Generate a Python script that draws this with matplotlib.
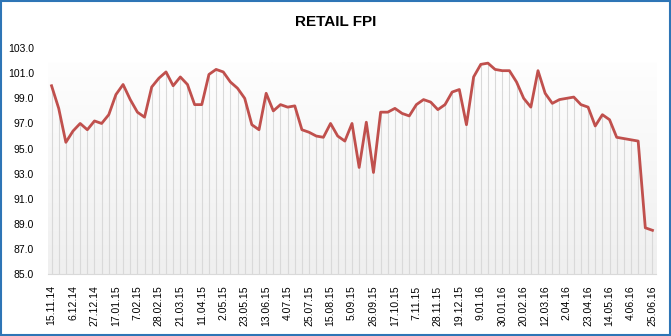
import matplotlib
matplotlib.use('Agg')
import matplotlib.pyplot as plt
from matplotlib.colors import LinearSegmentedColormap
from matplotlib.patches import Rectangle
import numpy as np

# weekly retail FPI, 15.11.14 .. 25.06.16
fpi = [100.0, 98.2, 95.5, 96.4, 97.0, 96.5, 97.2, 97.0, 97.7, 99.3,
       100.1, 98.9, 97.9, 97.5, 99.9, 100.6, 101.1, 100.0, 100.7, 100.1,
       98.5, 98.5, 100.9, 101.3, 101.1, 100.3, 99.8, 99.0, 96.9, 96.5,
       99.4, 98.0, 98.5, 98.3, 98.4, 96.5, 96.3, 96.0, 95.9, 97.0,
       96.0, 95.6, 97.0, 93.5, 97.1, 93.1, 97.9, 97.9, 98.2, 97.8,
       97.6, 98.5, 98.9, 98.7, 98.1, 98.5, 99.5, 99.7, 96.9, 100.7,
       101.7, 101.8, 101.3, 101.2, 101.2, 100.3, 99.0, 98.3, 101.2, 99.4,
       98.6, 98.9, 99.0, 99.1, 98.5, 98.3, 96.8, 97.7, 97.3, 95.9,
       95.8, 95.7, 95.6, 88.7, 88.5]

# every third week is labelled
date_labels = ['15.11.14', '6.12.14', '27.12.14', '17.01.15', '7.02.15', '28.02.15',
               '21.03.15', '11.04.15', '2.05.15', '23.05.15', '13.06.15', '4.07.15',
               '25.07.15', '15.08.15', '5.09.15', '26.09.15', '17.10.15', '7.11.15',
               '28.11.15', '19.12.15', '9.01.16', '30.01.16', '20.02.16', '12.03.16',
               '2.04.16', '23.04.16', '14.05.16', '4.06.16', '25.06.16']

y_ticks = [85, 87, 89, 91, 93, 95, 97, 99, 101, 103]

plt.rcParams['font.family'] = ['Liberation Sans', 'DejaVu Sans']

fig = plt.figure(figsize=(6.71, 3.36), dpi=100)
ax = fig.add_axes([0.0715, 0.1836, 0.9062, 0.6734])

x = np.arange(len(fpi))

# soft grey gradient behind the series
grad = LinearSegmentedColormap.from_list('g', ['#efefef', '#fefefe'])
ax.imshow(np.linspace(0, 1, 100).reshape(-1, 1), cmap=grad, origin='lower',
          aspect='auto', extent=[-0.5, len(fpi) - 0.5, 85, max(fpi)], zorder=0)

# drop lines
ax.vlines(x, 85, fpi, color='#d9d9d9', lw=0.8, zorder=1)
ax.plot(x, fpi, color='#c0504d', lw=2, zorder=3, solid_joinstyle='round')

ax.set_xlim(-0.5, len(fpi) - 0.5)
ax.set_ylim(85, 103)
ax.set_yticks(y_ticks)
ax.set_yticklabels(['%.1f' % v for v in y_ticks], fontsize=7.5)
ax.set_xticks(x[::3])
ax.set_xticklabels(date_labels, rotation=90, fontsize=7.5)
ax.tick_params(axis='both', length=0)
ax.tick_params(axis='y', pad=10)
ax.tick_params(axis='x', pad=8)

for s in ['top', 'right', 'left']:
    ax.spines[s].set_visible(False)
ax.spines['bottom'].set_color('#d9d9d9')
ax.spines['bottom'].set_linewidth(0.8)

fig.text(0.5, 0.935, 'RETAIL FPI', ha='center', va='center', fontsize=11,
         fontweight='bold')

# blue frame around the chart
fig.patches.append(Rectangle((0.0015, 0.003), 0.997, 0.994, transform=fig.transFigure,
                             fill=False, edgecolor='#2e75b6', lw=1.5))

fig.savefig('out.png', dpi=100)
